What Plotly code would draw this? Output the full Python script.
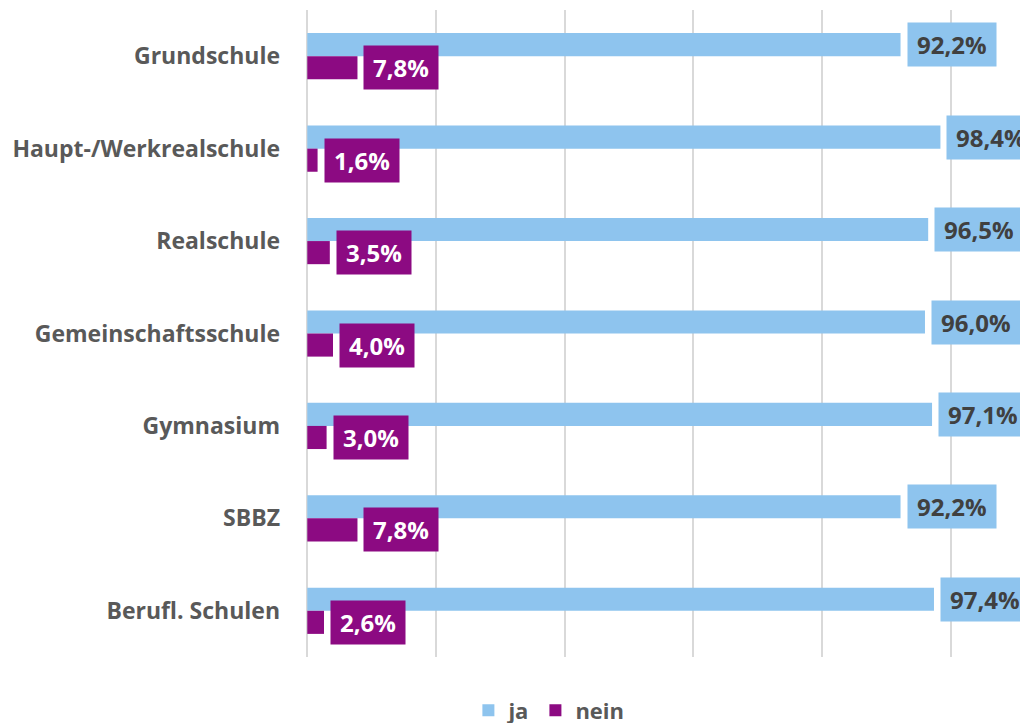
import plotly.graph_objects as go

categories = ["Grundschule", "Haupt-/Werkrealschule", "Realschule", "Gemeinschaftsschule",
              "Gymnasium", "SBBZ", "Berufl. Schulen"]
ja = [92.2, 98.4, 96.5, 96.0, 97.1, 92.2, 97.4]
nein = [7.8, 1.6, 3.5, 4.0, 3.0, 7.8, 2.6]
ja_labels = ["92,2%", "98,4%", "96,5%", "96,0%", "97,1%", "92,2%", "97,4%"]
nein_labels = ["7,8%", "1,6%", "3,5%", "4,0%", "3,0%", "7,8%", "2,6%"]

BLUE = "#8EC4EE"
PURPLE = "#8C0A82"
FONT = "Open Sans"

fig = go.Figure()
fig.add_trace(go.Bar(y=categories, x=ja, orientation="h", name="ja",
                     marker=dict(color=BLUE, line=dict(width=0))))
fig.add_trace(go.Bar(y=categories, x=nein, orientation="h", name="nein",
                     marker=dict(color=PURPLE, line=dict(width=0))))

annotations = []
for c, v, t in zip(categories, ja, ja_labels):
    annotations.append(dict(x=v, y=c, xref="x", yref="y", text=f"<b>{t}</b>",
                            showarrow=False, xanchor="left", yanchor="middle",
                            xshift=6, yshift=11.5, bgcolor=BLUE, borderpad=9,
                            height=25,
                            font=dict(family=FONT, size=24, color="#404040")))
for c, v, t in zip(categories, nein, nein_labels):
    annotations.append(dict(x=v, y=c, xref="x", yref="y", text=f"<b>{t}</b>",
                            showarrow=False, xanchor="left", yanchor="middle",
                            xshift=6, yshift=-11.5, bgcolor=PURPLE, borderpad=9,
                            height=25,
                            font=dict(family=FONT, size=24, color="white")))

fig.update_layout(
    width=1028, height=723,
    margin=dict(l=298, r=84, t=2, b=74, autoexpand=False),
    paper_bgcolor="white", plot_bgcolor="white",
    barmode="group", bargap=0.5, bargroupgap=0,
    annotations=annotations,
    font=dict(family=FONT, color="#595959"),
    legend=dict(orientation="h", x=0.376, xanchor="center", y=-0.05, yanchor="top",
                font=dict(family=FONT, size=22, color="#595959", weight="bold"),
                itemwidth=30, tracegroupgap=0),
    showlegend=True,
)
fig.update_xaxes(range=[-0.2, 100.2], dtick=20, showgrid=True, gridcolor="#D9D9D9",
                 gridwidth=2, showticklabels=False, zeroline=True, zerolinecolor="#D9D9D9",
                 zerolinewidth=2, showline=False, ticks="", automargin=False)
fig.update_yaxes(autorange="reversed", showgrid=False, ticks="", ticklabelstandoff=25,
                 tickfont=dict(family=FONT, size=23, color="#595959", weight="bold"),
                 showline=False, automargin=False)

fig.write_html("out.html")
